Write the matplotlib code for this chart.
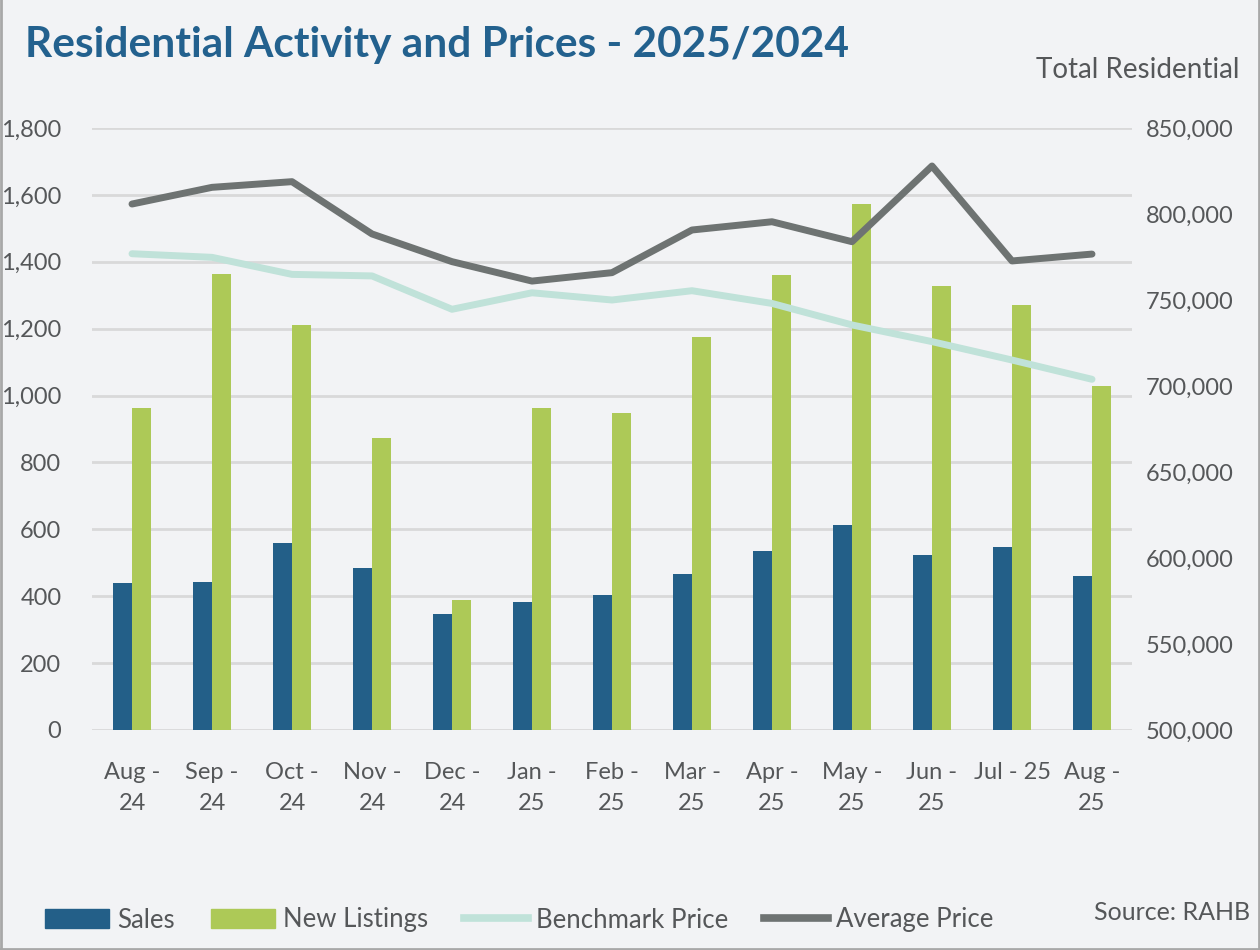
import numpy as np
import matplotlib.pyplot as plt
from matplotlib.patches import Patch
from matplotlib.lines import Line2D
from matplotlib.ticker import FuncFormatter

plt.rcParams['font.family'] = ['Lato', 'DejaVu Sans']

# data
months = ['Aug -\n24', 'Sep -\n24', 'Oct -\n24', 'Nov -\n24', 'Dec -\n24', 'Jan -\n25', 'Feb -\n25',
          'Mar -\n25', 'Apr -\n25', 'May -\n25', 'Jun -\n25', 'Jul - 25\n', 'Aug -\n25']
sales = [439, 442, 559, 485, 347, 382, 404, 466, 536, 613, 522, 546, 459]
new_listings = [962, 1364, 1211, 872, 389, 962, 949, 1174, 1360, 1573, 1327, 1270, 1030]
benchmark_price = [776900, 774800, 764900, 764000, 744600, 754200, 750000,
                   755400, 748000, 735500, 725800, 715100, 703900]
average_price = [805800, 815500, 818800, 788400, 772300, 761000, 765900,
                 790700, 795500, 783900, 827900, 772700, 776700]

BG = '#f2f3f5'
TXT = '#555759'
C_SALES = '#235f88'
C_NEW = '#adc957'
C_BENCH = '#c0e2d9'
C_AVG = '#6e7372'

fig = plt.figure(figsize=(12.6, 9.5), dpi=100, facecolor=BG)
ax = fig.add_axes([92 / 1260, 1 - 730 / 950, 1040 / 1260, 602 / 950])
ax.set_facecolor(BG)
ax2 = ax.twinx()

x = np.arange(len(months))
w = 0.24
ax.bar(x - w / 2, sales, width=w, color=C_SALES, zorder=3)
ax.bar(x + w / 2, new_listings, width=w, color=C_NEW, zorder=3)
ax.set_ylim(0, 1800)
ax.set_xlim(-0.5, 12.5)
ax.set_yticks(np.arange(0, 1801, 200))
ax.yaxis.set_major_formatter(FuncFormatter(lambda v, p: f'{int(v):,}'))
ax.grid(axis='y', color='#d9d9d9', linewidth=2, zorder=0)
ax.set_xticks(x)
ax.set_xticklabels(months, linespacing=1.6)

ax2.plot(x, benchmark_price, color=C_BENCH, linewidth=5, solid_capstyle='round', zorder=4)
ax2.plot(x, average_price, color=C_AVG, linewidth=5, solid_capstyle='round', zorder=5)
ax2.set_ylim(500000, 850000)
ax2.set_yticks(np.arange(500000, 850001, 50000))
ax2.yaxis.set_major_formatter(FuncFormatter(lambda v, p: f'{int(v):,}'))

for a in (ax, ax2):
    for s in a.spines.values():
        s.set_visible(False)
    a.tick_params(length=0, labelsize=17, labelcolor=TXT)
ax.tick_params(axis='y', pad=22)
ax.tick_params(axis='x', pad=23)
ax2.tick_params(axis='y', pad=10)

fig.text(25 / 1260, 1 - 45 / 950, 'Residential Activity and Prices - 2025/2024', fontsize=30.5,
         fontweight='bold', color='#23618e', va='center', ha='left')
fig.text(1240 / 1260, 1 - 70 / 950, 'Total Residential', fontsize=20, color=TXT, va='center', ha='right')
fig.text(1250 / 1260, 1 - 913 / 950, 'Source: RAHB', fontsize=18, color=TXT, va='center', ha='right')

handles = [Patch(color=C_SALES, label='Sales'),
           Patch(color=C_NEW, label='New Listings'),
           Line2D([], [], color=C_BENCH, linewidth=5.5, label='Benchmark Price'),
           Line2D([], [], color=C_AVG, linewidth=5.5, label='Average Price')]
fig.legend(handles=handles, loc='center left', bbox_to_anchor=(22 / 1260, 1 - 920 / 950), ncol=4,
           frameon=False, fontsize=18.5, labelcolor=TXT, handlelength=2.5, handleheight=0.8,
           handletextpad=0.3, columnspacing=1.4)

# border lines around the figure
fig.add_artist(Line2D([0.001, 0.001], [0, 1], color='#a8a8a8', linewidth=2, transform=fig.transFigure))
fig.add_artist(Line2D([0.999, 0.999], [0, 1], color='#a8a8a8', linewidth=2, transform=fig.transFigure))
fig.add_artist(Line2D([0, 1], [0.001, 0.001], color='#a8a8a8', linewidth=2, transform=fig.transFigure))

fig.savefig('out.png', dpi=100, facecolor=BG)
